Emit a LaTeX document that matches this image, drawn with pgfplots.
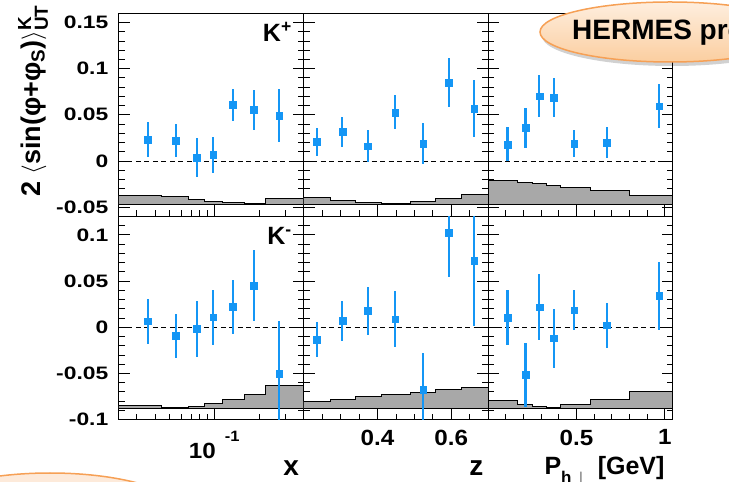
\documentclass[border=0pt]{standalone}
\usepackage{fontspec}
\setmainfont{Liberation Sans}
\newfontfamily\yfont{Liberation Sans}[FakeStretch=1.27]
\newfontfamily\xfont{Liberation Sans}[FakeStretch=1.1]
\usepackage{amsmath}
\usepackage{pgfplots}
\pgfplotsset{compat=1.18}

\definecolor{kblue}{RGB}{20,150,245}
\definecolor{bandgray}{RGB}{168,168,168}
\definecolor{borange}{RGB}{246,160,85}
\definecolor{peachtop}{RGB}{254,238,222}
\definecolor{peachbot}{RGB}{251,206,160}
\definecolor{peachlt}{RGB}{253,234,218}

\newcommand\ytsz{\yfont\bfseries\fontsize{18bp}{18bp}\selectfont}
\newcommand\xtsz{\xfont\bfseries\fontsize{22bp}{22bp}\selectfont}
\newcommand\titlesz{\bfseries\fontsize{25bp}{25bp}\selectfont}

\pgfplotsset{
  panel/.style={
    scale only axis, width=184.6bp, height=203.2bp,
    anchor=south west,
    axis line style={line width=1bp},
    tick style={black, line width=0.8bp},
    major tick length=11bp, minor tick length=6bp,
    tick align=inside,
    xtick pos=left, ytick pos=both,
    enlargelimits=false,
    yticklabel style={font=\ytsz, anchor=east, inner sep=0pt, xshift=-10.5bp},
    xticklabel style={font=\xtsz, anchor=north, inner sep=0pt, yshift=-10bp},
    minor ytick={-0.1,-0.09,...,0.161},
  },
  toprow/.style={ymin=-0.06, ymax=0.16, ytick={-0.05,0,0.05,0.1,0.15}, xticklabels={}},
  botrow/.style={ymin=-0.1, ymax=0.12, ytick={-0.1,-0.05,0,0.05,0.1}},
  xpanel/.style={xmin=0.0228, xmax=0.4, xtick={0.1},
    minor xtick={0.03,0.04,0.05,0.06,0.07,0.08,0.09,0.2,0.3}},
  zpanel/.style={xmin=0.2, xmax=0.7, xtick={0.4,0.6},
    minor xtick={0.25,0.3,0.35,0.45,0.5,0.55,0.65}},
  ppanel/.style={xmin=0, xmax=1.045, xtick={0.5,1},
    minor xtick={0.1,0.2,0.3,0.4,0.6,0.7,0.8,0.9}},
  band/.style={fill=bandgray, draw=black, line width=1bp},
  zero/.style={black, line width=0.9bp, dash pattern=on 5bp off 3.5bp},
  pts/.style={color=kblue, only marks, mark=square*, mark size=3.4bp,
    error bars/.cd, y dir=both, y explicit, error mark=none,
    error bar style={line width=2.1bp, draw=kblue, solid}},
}

\begin{document}
\begin{tikzpicture}
\useasboundingbox (0,0) rectangle (729bp,482bp);

% ---------- K+ row ----------
\begin{semilogxaxis}[panel, toprow, xpanel, at={(119bp,265.6bp)},
  yticklabels={-0.05,0,0.05,0.1,0.15}]
\addplot[band] coordinates {(0.0228,-0.0475) (0.0228,-0.037) (0.0443,-0.037) (0.0443,-0.0389) (0.0668,-0.0389) (0.0668,-0.0417) (0.0856,-0.0417) (0.0856,-0.0435) (0.113,-0.0435) (0.113,-0.045) (0.159,-0.045) (0.159,-0.046) (0.22,-0.046) (0.22,-0.041) (0.4,-0.041) (0.4,-0.0475) (0.0228,-0.0475)};
\addplot[zero] coordinates {(0.0228,0) (0.4,0)};
\addplot[pts] coordinates {
  (0.0356,0.0234) +- (0,0.0193)
  (0.0552,0.0223) +- (0,0.0180)
  (0.0761,0.0037) +- (0,0.0210)
  (0.0985,0.0069) +- (0,0.0196)
  (0.133,0.0605) +- (0,0.0176)
  (0.185,0.0551) +- (0,0.0220)
  (0.274,0.0493) +- (0,0.0290)
};
\node[anchor=base east, font=\titlesz] at (rel axis cs:0.955,0.86) {K\textsuperscript{+}};
\end{semilogxaxis}

\begin{axis}[panel, toprow, zpanel, at={(303.6bp,265.6bp)}, yticklabels={}]
\addplot[band] coordinates {(0.2,-0.0475) (0.2,-0.040) (0.272,-0.040) (0.272,-0.0424) (0.34,-0.0424) (0.34,-0.045) (0.41,-0.045) (0.41,-0.0464) (0.49,-0.0464) (0.49,-0.0435) (0.558,-0.0435) (0.558,-0.0403) (0.628,-0.0403) (0.628,-0.0367) (0.7,-0.0367) (0.7,-0.0475) (0.2,-0.0475)};
\addplot[zero] coordinates {(0.2,0) (0.7,0)};
\addplot[pts] coordinates {
  (0.236,0.0205) +- (0,0.0151)
  (0.305,0.0313) +- (0,0.0158)
  (0.374,0.0159) +- (0,0.0171)
  (0.448,0.0526) +- (0,0.0185)
  (0.524,0.0191) +- (0,0.0221)
  (0.594,0.0850) +- (0,0.0265)
  (0.662,0.0566) +- (0,0.0306)
};
\end{axis}

\begin{axis}[panel, toprow, ppanel, at={(488.2bp,265.6bp)}, yticklabels={}]
\addplot[band] coordinates {(0,-0.0475) (0,-0.0208) (0.166,-0.0208) (0.166,-0.0234) (0.249,-0.0234) (0.249,-0.0248) (0.33,-0.0248) (0.33,-0.0262) (0.411,-0.0262) (0.411,-0.0284) (0.579,-0.0284) (0.579,-0.0316) (0.798,-0.0316) (0.798,-0.037) (1.045,-0.037) (1.045,-0.0475) (0,-0.0475)};
\addplot[zero] coordinates {(0,0) (1.045,0)};
\addplot[pts] coordinates {
  (0.109,0.0180) +- (0,0.0184)
  (0.211,0.0356) +- (0,0.0216)
  (0.290,0.0702) +- (0,0.0225)
  (0.370,0.0688) +- (0,0.0212)
  (0.487,0.0191) +- (0,0.0149)
  (0.672,0.0199) +- (0,0.0171)
  (0.968,0.0594) +- (0,0.0238)
};
\end{axis}

% ---------- K- row ----------
\begin{semilogxaxis}[panel, botrow, xpanel, at={(119bp,62.4bp)},
  yticklabels={-0.1,-0.05,0,0.05,0.1},
  xticklabels={10\hspace{9bp}\raisebox{16.6bp}{\fontsize{15bp}{15bp}\selectfont -1}},
  xticklabel style={yshift=-1.4bp}]
\addplot[band] coordinates {(0.0228,-0.0881) (0.0228,-0.0846) (0.0443,-0.0846) (0.0443,-0.0867) (0.0668,-0.0867) (0.0668,-0.086) (0.0856,-0.086) (0.0856,-0.0828) (0.113,-0.0828) (0.113,-0.0785) (0.159,-0.0785) (0.159,-0.073) (0.22,-0.073) (0.22,-0.063) (0.4,-0.063) (0.4,-0.0881) (0.0228,-0.0881)};
\addplot[zero] coordinates {(0.0228,0) (0.4,0)};
\addplot[pts] coordinates {
  (0.0356,0.0065) +- (0,0.0243)
  (0.0552,-0.0090) +- (0,0.0238)
  (0.0761,-0.0017) +- (0,0.0302)
  (0.0985,0.0108) +- (0,0.0295)
  (0.133,0.0224) +- (0,0.0292)
  (0.185,0.0454) +- (0,0.0382)
  (0.274,-0.0500) +- (0,0.0572)
};
\node[anchor=base east, font=\titlesz] at (rel axis cs:0.955,0.86) {K\textsuperscript{-}};
\end{semilogxaxis}

\begin{axis}[panel, botrow, zpanel, at={(303.6bp,62.4bp)}, yticklabels={},
  xticklabels={0.4,0.6}]
\addplot[band] coordinates {(0.2,-0.0881) (0.2,-0.0802) (0.272,-0.0802) (0.272,-0.0777) (0.34,-0.0777) (0.34,-0.0752) (0.41,-0.0752) (0.41,-0.0727) (0.49,-0.0727) (0.49,-0.0702) (0.558,-0.0702) (0.558,-0.0676) (0.628,-0.0676) (0.628,-0.0655) (0.7,-0.0655) (0.7,-0.0881) (0.2,-0.0881)};
\addplot[zero] coordinates {(0.2,0) (0.7,0)};
\addplot[pts] coordinates {
  (0.236,-0.0133) +- (0,0.0189)
  (0.305,0.0072) +- (0,0.0216)
  (0.374,0.0177) +- (0,0.0256)
  (0.448,0.0087) +- (0,0.0300)
  (0.524,-0.0673) +- (0,0.0392)
  (0.594,0.1026) +- (0,0.0486)
  (0.662,0.0720) +- (0,0.0702)
};
\end{axis}

\begin{axis}[panel, botrow, ppanel, at={(488.2bp,62.4bp)}, yticklabels={},
  xticklabels={0.5,1}]
\addplot[band] coordinates {(0,-0.0881) (0,-0.0795) (0.166,-0.0795) (0.166,-0.0835) (0.249,-0.0835) (0.249,-0.0853) (0.33,-0.0853) (0.33,-0.087) (0.411,-0.087) (0.411,-0.0835) (0.579,-0.0835) (0.579,-0.078) (0.798,-0.078) (0.798,-0.0698) (1.045,-0.0698) (1.045,-0.0881) (0,-0.0881)};
\addplot[zero] coordinates {(0,0) (1.045,0)};
\addplot[pts] coordinates {
  (0.109,0.0105) +- (0,0.0300)
  (0.211,-0.0514) +- (0,0.0346)
  (0.290,0.0216) +- (0,0.0356)
  (0.370,-0.0119) +- (0,0.0319)
  (0.487,0.0184) +- (0,0.0216)
  (0.672,0.0022) +- (0,0.0245)
  (0.968,0.0339) +- (0,0.0364)
};
\end{axis}

% ---------- labels ----------
\node[rotate=90, anchor=base, font=\bfseries\fontsize{27bp}{27bp}\selectfont] at (40bp,381bp)
  {2 $\langle$sin(φ+φ\textsubscript{S})$\rangle^{\text{K}}_{\text{UT}}$};
\node[anchor=base east, font=\bfseries\fontsize{28bp}{28bp}\selectfont] at (302.5bp,7bp) {x};
\node[anchor=base east, font=\bfseries\fontsize{28bp}{28bp}\selectfont] at (487bp,7bp) {z};
\node[anchor=base east, font=\titlesz] at (668bp,8bp)
  {P\raisebox{-9bp}{\fontsize{17bp}{17bp}\selectfont h\,$\perp$}\hspace{10bp}[GeV]};

% ---------- bubbles ----------
\begin{scope}
\clip (0,0) rectangle (729bp,482bp);
\fill[black, opacity=0.18] (672bp,446bp) ellipse [x radius=130bp, y radius=30bp];
\shade[top color=peachtop, bottom color=peachbot]
  (670bp,450bp) ellipse [x radius=130bp, y radius=30bp];
\draw[borange, line width=1.5bp] (670bp,450bp) ellipse [x radius=130bp, y radius=30bp];
\node[anchor=base west, font=\bfseries\fontsize{28bp}{28bp}\selectfont, inner sep=0pt]
  at (572bp,442bp) {HERMES preliminary};
\fill[peachlt] (50bp,-33bp) ellipse [x radius=135bp, y radius=42bp];
\draw[borange, line width=1.5bp] (50bp,-33bp) ellipse [x radius=135bp, y radius=42bp];
\end{scope}
\end{tikzpicture}
\end{document}
